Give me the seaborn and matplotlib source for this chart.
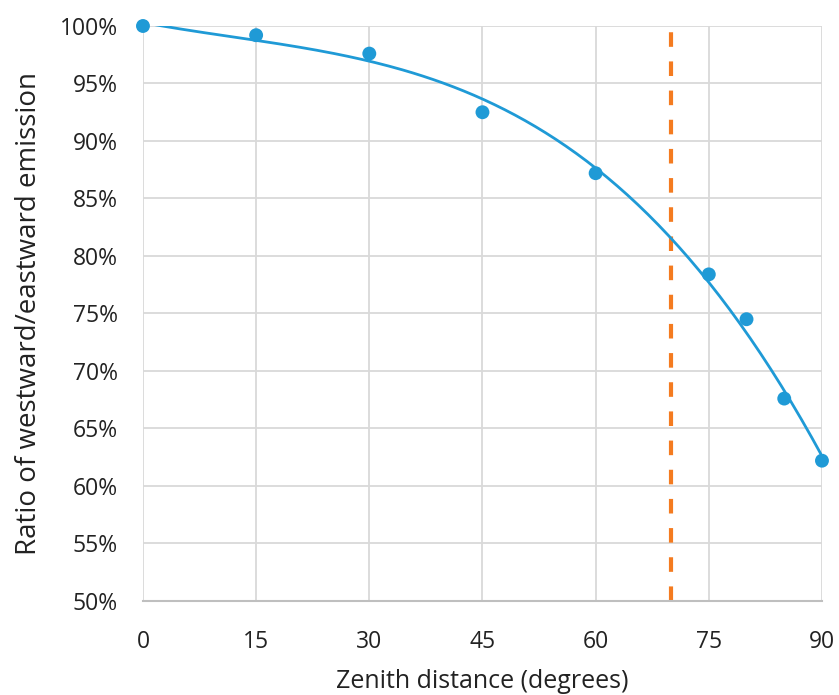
import numpy as np
import pandas as pd
import matplotlib
matplotlib.use("Agg")
import matplotlib.pyplot as plt
import seaborn as sns
from matplotlib.ticker import PercentFormatter

zenith = [0, 15, 30, 45, 60, 75, 80, 85, 90]
ratio = [100.0, 99.2, 97.6, 92.5, 87.2, 78.4, 74.5, 67.6, 62.2]
cutoff = 70
x_ticks = [0, 15, 30, 45, 60, 75, 90]
y_ticks = list(range(50, 101, 5))

sns.set_theme(style="white")
plt.rcParams['font.family'] = ['Open Sans', 'DejaVu Sans']

df = pd.DataFrame({"zenith": zenith, "ratio": ratio})
coef = np.polyfit(df["zenith"], df["ratio"], 3)
xs = np.linspace(0, 90, 200)
fit = pd.DataFrame({"zenith": xs, "ratio": np.polyval(coef, xs)})

fig = plt.figure(figsize=(8.39, 6.95), dpi=100)
ax = fig.add_axes([0.1704, 0.1353, 0.9797 - 0.1704, 0.9626 - 0.1353])

blue = "#1f9ad6"
sns.lineplot(data=fit, x="zenith", y="ratio", ax=ax, color=blue, lw=2, zorder=3)
sns.scatterplot(data=df, x="zenith", y="ratio", ax=ax, color=blue, s=100,
                edgecolor="none", zorder=4, clip_on=False)
ax.axvline(cutoff, color="#f47b20", lw=3, ls=(0, (3.5, 3.5)), zorder=2)

ax.set_xlim(0, 90)
ax.set_ylim(50, 100)
ax.set_xticks(x_ticks)
ax.set_yticks(y_ticks)
ax.yaxis.set_major_formatter(PercentFormatter(decimals=0))
ax.grid(True, color="#d9d9d9", lw=1.3)
for s in ["top", "right", "left"]:
    ax.spines[s].set_visible(False)
ax.spines["bottom"].set_color("#bfbfbf")
ax.spines["bottom"].set_linewidth(1.5)
ax.tick_params(axis="both", labelsize=16.5, colors="#222222", length=0)
ax.tick_params(axis="y", pad=18)
ax.tick_params(axis="x", pad=21)
ax.set_xlabel("Zenith distance (degrees)", fontsize=18, color="#222222", labelpad=11)
ax.set_ylabel("Ratio of westward/eastward emission", fontsize=20, color="#222222", labelpad=12)

fig.savefig("out.png", dpi=100)
